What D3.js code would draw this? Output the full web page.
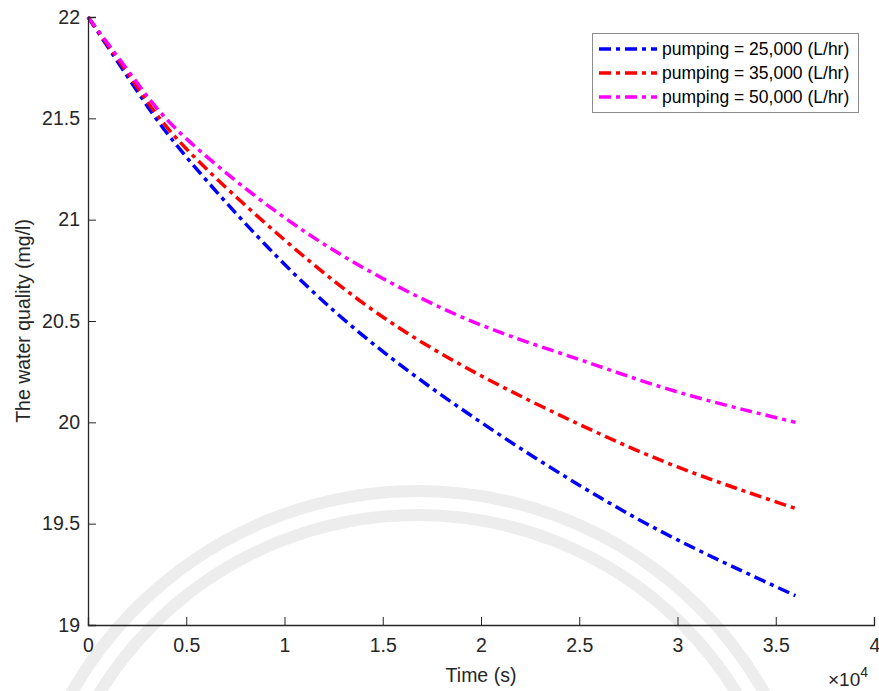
<!DOCTYPE html>
<html>
<head>
<meta charset="utf-8">
<script src="https://cdn.jsdelivr.net/npm/d3@7"></script>
<style>
html,body{margin:0;padding:0;background:#fff;}
svg{display:block;font-family:"Liberation Sans",Arial,Helvetica,sans-serif;}
</style>
</head>
<body>
<svg id="chart" width="879" height="691"></svg>
<script>
// Data (time in units of 1e4 s, water quality in mg/l)
const timeVals = [0, 0.25, 0.5, 1, 1.5, 2, 2.5, 3, 3.6];
const q25000 = [22, 21.635, 21.31, 20.78, 20.35, 20.00, 19.69, 19.42, 19.145];
const q35000 = [22, 21.655, 21.35, 20.90, 20.52, 20.23, 19.99, 19.78, 19.575];
const q50000 = [22, 21.675, 21.40, 21.01, 20.71, 20.48, 20.31, 20.15, 20.00];
const seriesNames = ["pumping = 25,000 (L/hr)", "pumping = 35,000 (L/hr)", "pumping = 50,000 (L/hr)"];
const seriesColors = ["#0000ff", "#ff0000", "#ff00ff"];
const xTicks = [0, 0.5, 1, 1.5, 2, 2.5, 3, 3.5, 4];
const yTicks = [19, 19.5, 20, 20.5, 21, 21.5, 22];

const svg = d3.select("#chart");
const W = 879, H = 691;
const m = {left: 88, right: 5, top: 17, bottom: 66};

svg.append("rect").attr("width", W).attr("height", H).attr("fill", "#fff");

// faint watermark arcs
const wm = svg.append("g").attr("fill", "none").attr("stroke", "#ededed").attr("stroke-width", 12);
wm.append("circle").attr("cx", 418).attr("cy", 889).attr("r", 398);
wm.append("circle").attr("cx", 418).attr("cy", 889).attr("r", 374);

const x = d3.scaleLinear().domain([0, 4]).range([m.left, W - m.right]);
const y = d3.scaleLinear().domain([19, 22]).range([H - m.bottom, m.top]);

const axisColor = "#262626";
const dash = "12,5,4,5";

// Lines
const allSeries = [q25000, q35000, q50000];
const line = d3.line().x(d => x(d[0])).y(d => y(d[1])).curve(d3.curveNatural);
allSeries.forEach((vals, i) => {
  svg.append("path")
    .datum(timeVals.map((t, j) => [t, vals[j]]))
    .attr("d", line)
    .attr("fill", "none")
    .attr("stroke", seriesColors[i])
    .attr("stroke-width", 3.5)
    .attr("stroke-dasharray", dash);
});

// Axes
const xAxis = d3.axisBottom(x).tickValues(xTicks).tickSize(-8).tickPadding(13)
  .tickFormat(d => d3.format("")(d));
const yAxis = d3.axisLeft(y).tickValues(yTicks).tickSize(-8).tickPadding(8)
  .tickFormat(d => d3.format("")(d));

const gx = svg.append("g").attr("transform", `translate(0,${H - m.bottom})`).call(xAxis);
const gy = svg.append("g").attr("transform", `translate(${m.left},0)`).call(yAxis);
[gx, gy].forEach(g => {
  g.select(".domain").attr("stroke", axisColor).attr("stroke-width", 1.3);
  g.selectAll(".tick line").attr("stroke", axisColor).attr("stroke-width", 1);
  g.selectAll(".tick text").attr("fill", axisColor).style("font-size", "19.5px")
    .style("font-family", '"Liberation Sans",Arial,sans-serif');
});
gx.selectAll(".tick text").attr("dy", "0.71em");
// keep the last x label inside the frame
gx.selectAll(".tick text").filter(d => d === 4).attr("text-anchor", "end").attr("dx", "0.3em");

// Axis labels
svg.append("text").attr("x", (m.left + W - m.right) / 2).attr("y", 682)
  .attr("text-anchor", "middle").attr("fill", axisColor).style("font-size", "19.5px").text("Time (s)");
svg.append("text").attr("transform", `translate(30,${(m.top + H - m.bottom) / 2}) rotate(-90)`)
  .attr("text-anchor", "middle").attr("fill", axisColor).style("font-size", "19.5px").text("The water quality (mg/l)");

// x10^4 exponent
const ex = svg.append("text").attr("x", 828).attr("y", 686).attr("fill", axisColor).style("font-size", "19px");
ex.append("tspan").text("\u00d710");
ex.append("tspan").attr("dy", -9).style("font-size", "14px").text("4");

// Legend
const lg = svg.append("g");
lg.append("rect").attr("x", 592.5).attr("y", 33.5).attr("width", 266).attr("height", 79)
  .attr("fill", "#fff").attr("stroke", "#8c8c8c").attr("stroke-width", 1);
seriesNames.forEach((name, i) => {
  const yy = 49 + i * 24;
  lg.append("line").attr("x1", 599).attr("x2", 657).attr("y1", yy).attr("y2", yy)
    .attr("stroke", seriesColors[i]).attr("stroke-width", 3.5).attr("stroke-dasharray", dash);
  lg.append("text").attr("x", 662).attr("y", yy).attr("dy", "0.35em")
    .attr("fill", "#000").style("font-size", "17.5px").text(name);
});
</script>
</body>
</html>
